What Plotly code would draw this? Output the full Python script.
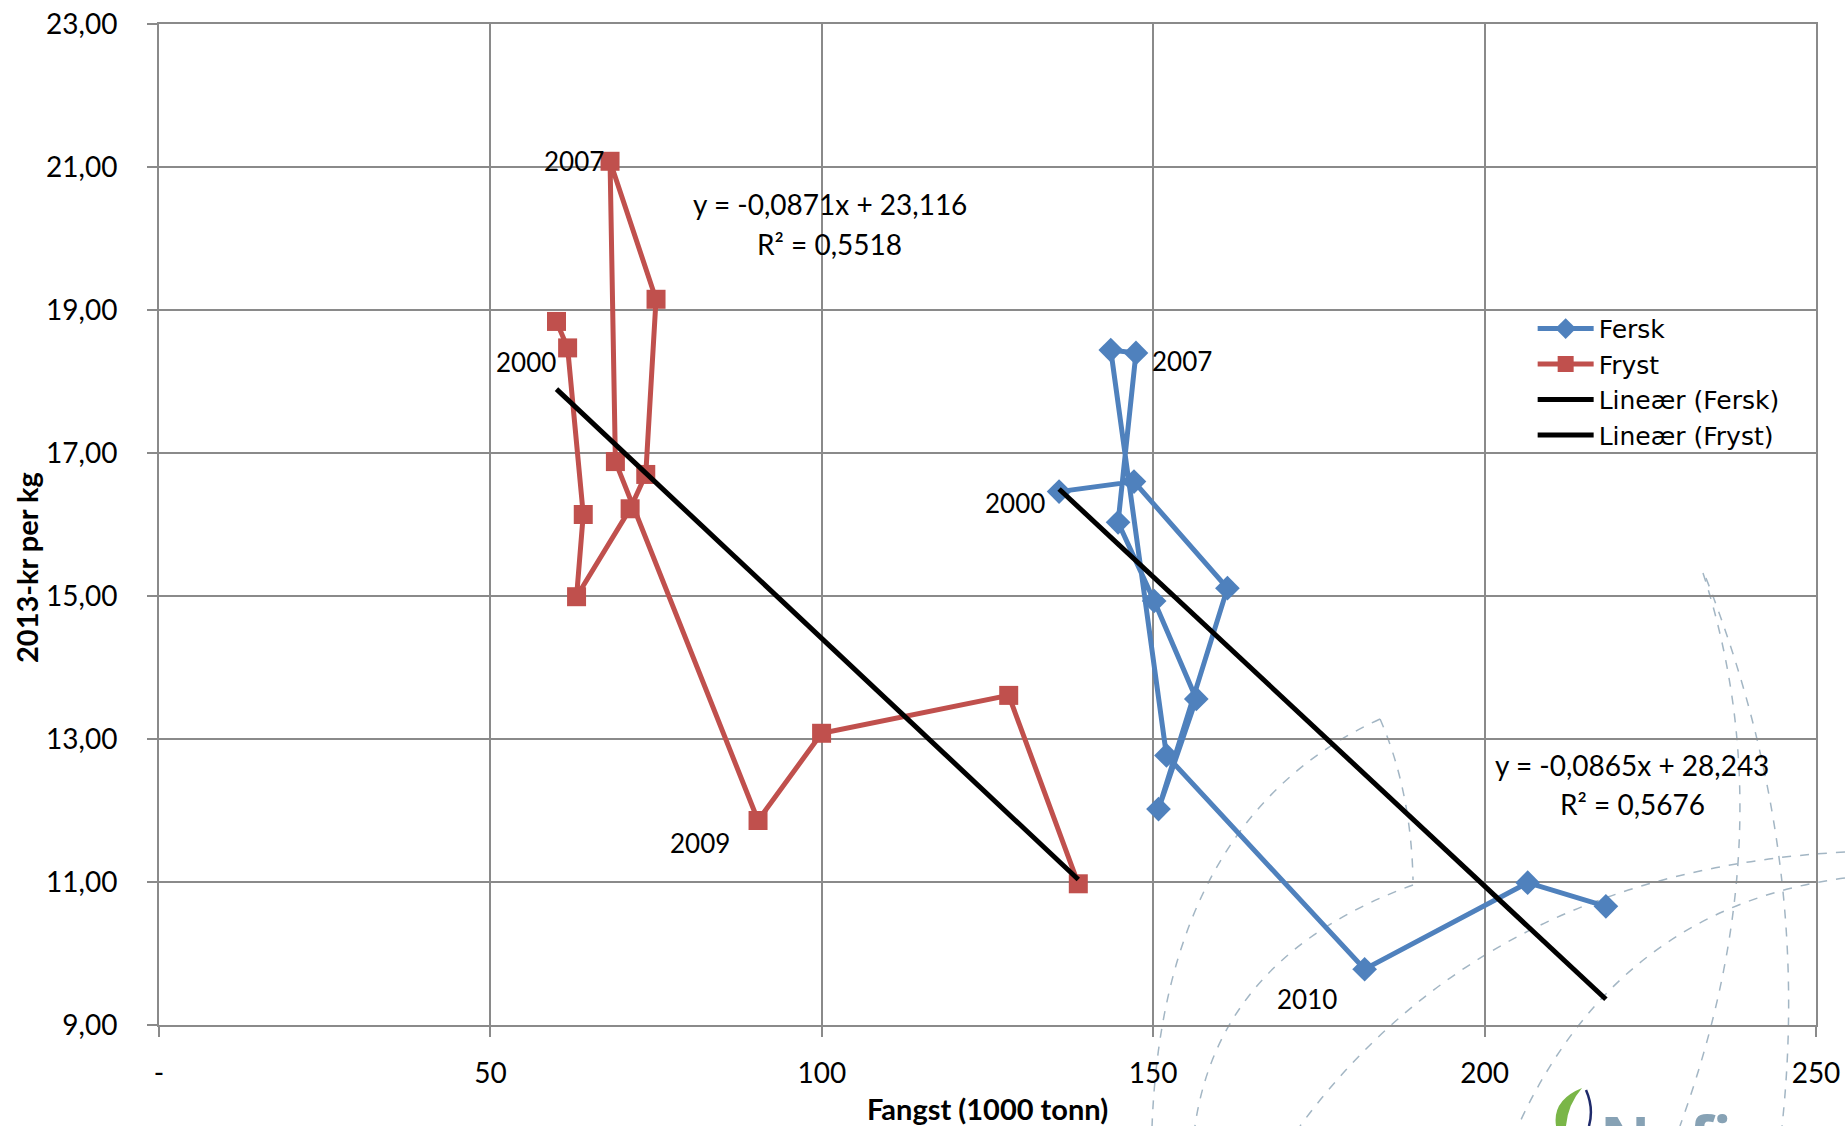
import plotly.graph_objects as go

# ---------------- data ----------------
YEARS = list(range(2000, 2013))

FERSK_X = [135.8, 147.1, 161.2, 150.8, 156.5, 150.15, 144.7, 147.4, 143.6, 152.0, 181.9, 206.5, 218.3]
FERSK_Y = [16.46, 16.60, 15.11, 12.02, 13.56, 14.93, 16.03, 18.40, 18.44, 12.77, 9.78, 10.99, 10.66]

FRYST_X = [59.97, 61.65, 64.01, 63.0, 71.08, 73.44, 74.99, 68.05, 68.86, 90.38, 99.97, 128.2, 138.7]
FRYST_Y = [18.84, 18.47, 16.14, 14.99, 16.22, 16.70, 19.15, 21.08, 16.88, 11.86, 13.08, 13.61, 10.975]

# linear trend lines (slope, intercept, R^2) as printed in the chart
FERSK_TREND = [-0.0865, 28.243, 0.5676]
FRYST_TREND = [-0.0871, 23.116, 0.5518]

X_TICKS = [0, 50, 100, 150, 200, 250]
X_TICKTEXT = ["-", "50", "100", "150", "200", "250"]
Y_TICKS = [9, 11, 13, 15, 17, 19, 21, 23]
Y_TICKTEXT = ["9,00", "11,00", "13,00", "15,00", "17,00", "19,00", "21,00", "23,00"]

X_TITLE = "Fangst (1000 tonn)"
Y_TITLE = "2013-kr per kg"

# ---------------- styling ----------------
W, H = 1845, 1126
ML, MR, MT, MB = 159, 29, 24, 101
FONT = "Lato"
GRID = "#8a8a8a"
BLUE = "#4f81bd"
RED = "#c0504d"


def trend_xy(xs, coef):
    x0, x1 = min(xs), max(xs)
    return [x0, x1], [coef[0] * x0 + coef[1], coef[0] * x1 + coef[1]]


def fmt(v, nd):
    return f"{v:.{nd}f}".replace(".", ",")


fig = go.Figure()

fig.add_trace(go.Scatter(
    x=FERSK_X, y=FERSK_Y, name="Fersk", mode="lines+markers",
    line=dict(color=BLUE, width=5),
    marker=dict(symbol="diamond", size=19, color=BLUE),
))
fig.add_trace(go.Scatter(
    x=FRYST_X, y=FRYST_Y, name="Fryst", mode="lines+markers",
    line=dict(color=RED, width=5),
    marker=dict(symbol="square", size=19, color=RED),
))
tx, ty = trend_xy(FERSK_X, FERSK_TREND)
fig.add_trace(go.Scatter(x=tx, y=ty, name="Lineær (Fersk)", mode="lines",
                         line=dict(color="black", width=5)))
tx, ty = trend_xy(FRYST_X, FRYST_TREND)
fig.add_trace(go.Scatter(x=tx, y=ty, name="Lineær (Fryst)", mode="lines",
                         line=dict(color="black", width=5)))

# year labels anchored on the data points
def year_label(xs, ys, year, xanchor, xshift, yshift):
    i = YEARS.index(year)
    fig.add_annotation(x=xs[i], y=ys[i], text=str(year), showarrow=False,
                       xanchor=xanchor, yanchor="middle", xshift=xshift, yshift=yshift,
                       font=dict(family=FONT, size=26, color="black"))

year_label(FRYST_X, FRYST_Y, 2007, "right", -4, 0)
year_label(FRYST_X, FRYST_Y, 2000, "right", 2, -41)
year_label(FRYST_X, FRYST_Y, 2009, "right", -26, -22)
year_label(FERSK_X, FERSK_Y, 2000, "right", -12, -11)
year_label(FERSK_X, FERSK_Y, 2007, "left", 14, -8)
year_label(FERSK_X, FERSK_Y, 2010, "right", -26, -30)

# trend equations
for coef, ex, ey in [(FRYST_TREND, 101.2, 20.48), (FERSK_TREND, 222.3, 12.64)]:
    fig.add_annotation(x=ex, y=ey, showarrow=False, xanchor="center", yanchor="middle",
                       text=f"y = {fmt(coef[0], 4)}x + {fmt(coef[1], 3)}",
                       font=dict(family=FONT, size=28, color="black"))
    fig.add_annotation(x=ex, y=ey - 0.55, showarrow=False, xanchor="center", yanchor="middle",
                       text=f"R² = {fmt(coef[2], 4)}",
                       font=dict(family=FONT, size=28, color="black"))

# y-axis title (placed below the axis centre, as in the original)
PW, PH = W - ML - MR, H - MT - MB


def px2paper(px, py):
    return (px - ML) / PW, (H - MB - py) / PH


tx_, ty_ = px2paper(26, 568)
fig.add_annotation(x=tx_, y=ty_, xref="paper", yref="paper", text=f"<b>{Y_TITLE}</b>",
                   textangle=-90, showarrow=False, xanchor="center", yanchor="middle",
                   font=dict(family=FONT, size=29, color="black"))

# ---------------- decorative background (template watermark) ----------------
DECOR_CURVES = [  # start, control, end in page pixels (quadratic bezier)
    [(1380, 719), (1164, 818), (1152, 1126)],
    [(1380, 719), (1411, 790), (1413, 880)],
    [(1413, 885), (1220, 955), (1195, 1126)],
    [(1845, 852), (1488, 871), (1300, 1126)],
    [(1845, 878), (1618, 908), (1518, 1126)],
    [(1703, 573), (1787, 831), (1680, 1126)],
    [(1706, 578), (1812, 848), (1782, 1126)],
]
shapes = []
for (s, c, e) in DECOR_CURVES:
    sx, sy = px2paper(*s)
    cx, cy = px2paper(*c)
    ex_, ey_ = px2paper(*e)
    shapes.append(dict(type="path", xref="paper", yref="paper", layer="below",
                       path=f"M{sx:.4f},{sy:.4f} Q{cx:.4f},{cy:.4f} {ex_:.4f},{ey_:.4f}",
                       line=dict(color="#a3b6c4", width=1.5, dash="dash")))

# logo fragment (green leaf + navy stroke + lettering, cut by the page edge as in the template)
p = [px2paper(*q) for q in [(1582, 1088), (1552, 1100), (1556, 1126), (1566, 1126), (1568, 1104), (1582, 1088)]]
shapes.append(dict(type="path", xref="paper", yref="paper", layer="above",
                   path=f"M{p[0][0]:.4f},{p[0][1]:.4f} Q{p[1][0]:.4f},{p[1][1]:.4f} {p[2][0]:.4f},{p[2][1]:.4f} "
                        f"L{p[3][0]:.4f},{p[3][1]:.4f} Q{p[4][0]:.4f},{p[4][1]:.4f} {p[5][0]:.4f},{p[5][1]:.4f} Z",
                   fillcolor="#7ab648", line=dict(width=0)))
n = [px2paper(*q) for q in [(1586, 1090), (1594, 1108), (1589, 1126)]]
shapes.append(dict(type="path", xref="paper", yref="paper", layer="above",
                   path=f"M{n[0][0]:.4f},{n[0][1]:.4f} Q{n[1][0]:.4f},{n[1][1]:.4f} {n[2][0]:.4f},{n[2][1]:.4f}",
                   line=dict(color="#1f2a6b", width=2.5)))
lx, ly = px2paper(1598, 1094)
fig.add_annotation(x=lx, y=ly, xref="paper", yref="paper", text="<b>Nofima</b>", showarrow=False,
                   xanchor="left", yanchor="top", font=dict(family="Open Sans", size=62, color="#87a2b5"))

axis_common = dict(
    showgrid=True, gridcolor=GRID, gridwidth=2,
    showline=True, linecolor=GRID, linewidth=2, mirror=True,
    ticks="outside", ticklen=10, tickwidth=2, tickcolor=GRID,
    zeroline=False, automargin=False,
    tickfont=dict(family=FONT, size=28, color="black"),
)

fig.update_layout(
    width=W, height=H, autosize=False,
    margin=dict(l=ML, r=MR, t=MT, b=MB, pad=0),
    paper_bgcolor="white", plot_bgcolor="white",
    shapes=shapes,
    showlegend=True,
    legend=dict(x=0.829, y=0.7185, xanchor="left", yanchor="top",
                bgcolor="rgba(0,0,0,0)", font=dict(family="DejaVu Sans", size=25, color="black"),
                tracegroupgap=0, itemwidth=56),
    xaxis=dict(range=[0, 250], tickvals=X_TICKS, ticktext=X_TICKTEXT,
               ticklabelstandoff=12,
               title=dict(text=f"<b>{X_TITLE}</b>", standoff=12,
                          font=dict(family=FONT, size=29, color="black")),
               **axis_common),
    yaxis=dict(range=[9, 23], tickvals=Y_TICKS, ticktext=Y_TICKTEXT,
               ticklabelstandoff=24,
               **axis_common),
)

fig.write_html("out.html", config={"displayModeBar": False},
               post_script="document.body.style.margin='0px';document.body.style.overflow='hidden';")
